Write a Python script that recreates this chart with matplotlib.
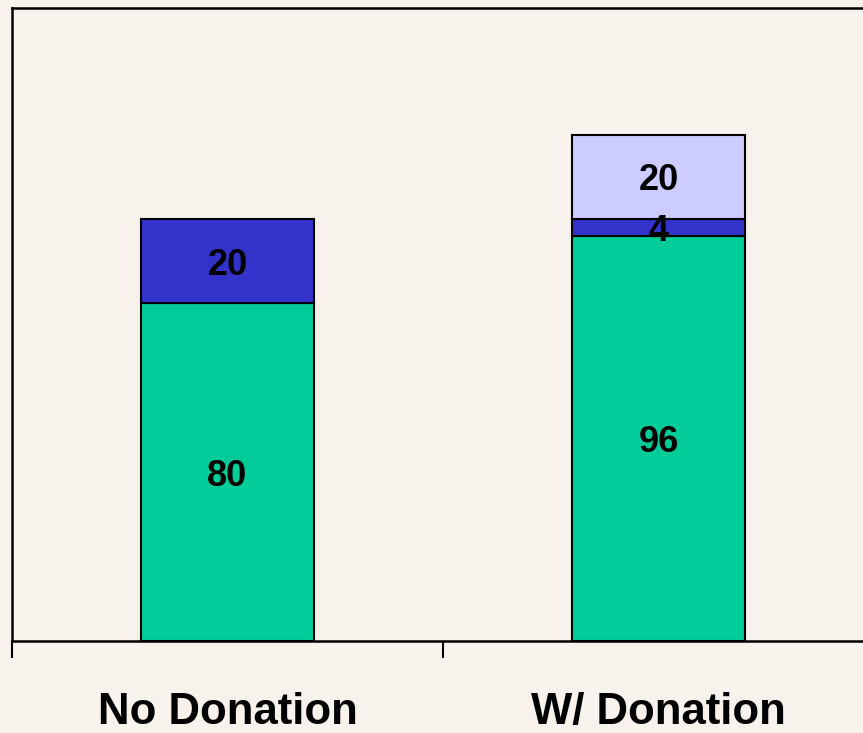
import matplotlib
matplotlib.use("Agg")
import matplotlib.pyplot as plt
import numpy as np

categories = ["No Donation", "W/ Donation"]
series_names = ["Base", "Middle", "Top"]
base_vals = [80, 96]
middle_vals = [20, 4]
top_vals = [0, 20]
colors = ["#00CC99", "#3333CC", "#CCCCFF"]
bg = "#F7F2EC"

W, H = 863, 733
fig = plt.figure(figsize=(W / 100, H / 100), dpi=100, facecolor=bg)
left = 12 / W
right = 874 / W
bottom = (H - 641) / H
top = (H - 8) / H
ax = fig.add_axes([left, bottom, right - left, top - bottom], facecolor=bg)

x = np.arange(len(categories))
width = 0.402
bottoms = np.zeros(len(categories))
for vals, col in zip([base_vals, middle_vals, top_vals], colors):
    vals = np.array(vals, dtype=float)
    mask = vals > 0
    ax.bar(x[mask], vals[mask], width, bottom=bottoms[mask], color=col,
           edgecolor="black", linewidth=1.5, zorder=3)
    for xi, v, b in zip(x[mask], vals[mask], bottoms[mask]):
        ax.text(xi, b + v / 2, f"{int(v)}", ha="center", va="center_baseline",
                fontsize=26, fontweight="bold", family="Liberation Sans",
                color="black", zorder=4)
    bottoms = bottoms + vals

ax.set_xlim(-0.5, len(categories) - 0.5)
ax.set_ylim(0, 150)
ax.set_yticks([])
ax.set_xticks(np.arange(-0.5, len(categories) + 0.5, 1.0))
ax.set_xticklabels([])
ax.set_xticks(x, minor=True)
ax.set_xticklabels(categories, minor=True, fontsize=31.5, fontweight="bold",
                   family="Liberation Sans")
ax.tick_params(axis="x", which="major", length=12, width=1.5, direction="out")
ax.tick_params(axis="x", which="minor", length=0, pad=37)
for s in ["left", "top", "bottom", "right"]:
    ax.spines[s].set_linewidth(1.8)

fig.savefig("out.png", dpi=100, facecolor=bg)
